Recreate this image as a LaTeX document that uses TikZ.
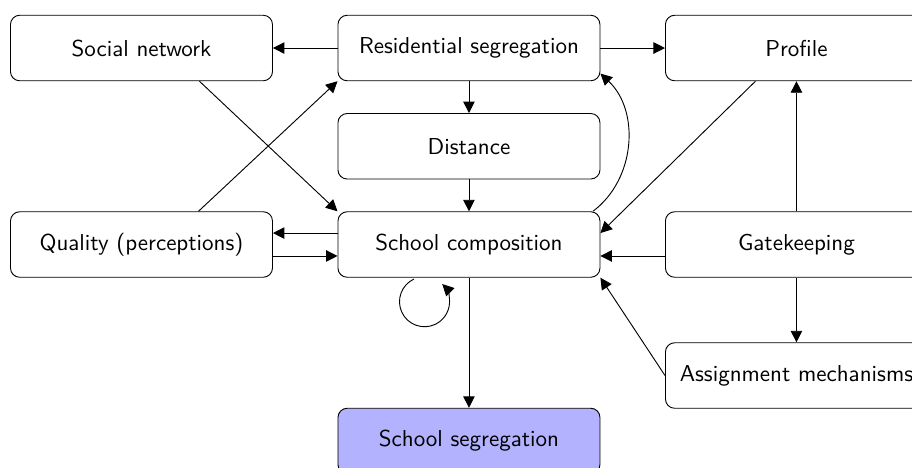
\documentclass[tikz,border=0pt]{standalone}
\usetikzlibrary{arrows.meta,calc}
\begin{document}
\begin{tikzpicture}[
  box/.style={draw, rounded corners, minimum width=4cm, minimum height=1cm, font=\sffamily, align=center},
  arr/.style={-{Triangle[length=5pt,width=5pt]}}
]
\useasboundingbox (0,0) rectangle (13.924,-7.145);
\node[box] (soc) at (2.16,-0.733) {Social network};
\node[box] (res) at (7.16,-0.733) {Residential segregation};
\node[box] (prof) at (12.16,-0.733) {Profile};
\node[box] (dist) at (7.16,-2.233) {Distance};
\node[box] (qual) at (2.16,-3.733) {Quality (perceptions)};
\node[box] (comp) at (7.16,-3.733) {School composition};
\node[box] (gate) at (12.16,-3.733) {Gatekeeping};
\node[box] (assign) at (12.16,-5.733) {Assignment mechanisms};
\node[box, fill=blue!30] (seg) at (7.16,-6.733) {School segregation};

\draw[arr] (res) -- (soc);
\draw[arr] (res) -- (prof);
\draw[arr] (res) -- (dist);
\draw[arr] (dist) -- (comp);
\draw[arr] (comp) -- (seg);
\draw[arr] ($(soc.south)+(0.885,0)$) -- (comp.north west);
\draw[arr] ($(qual.north)+(0.87,0)$) -- (res.south west);
\draw[arr] ([yshift=0.175cm]comp.west) -- ([yshift=0.175cm]qual.east);
\draw[arr] ([yshift=-0.175cm]qual.east) -- ([yshift=-0.175cm]comp.west);
\draw[arr] ($(prof.south)+(-0.626,0)$) -- ([yshift=0.175cm]comp.east);
\draw[arr] ([yshift=-0.175cm]gate.west) -- ([yshift=-0.175cm]comp.east);
\draw[arr] (gate) -- (prof);
\draw[arr] (gate) -- (assign);
\draw[arr] (assign.west) -- (comp.south east);
\draw[arr] (comp.15) to[bend right=50] (res.-11);
\coordinate (loopA) at ($(comp.south)+(-0.840,-0.020)$);
\draw[arr] (loopA) arc[start angle=115, end angle=405, radius=0.382cm];
\end{tikzpicture}
\end{document}
